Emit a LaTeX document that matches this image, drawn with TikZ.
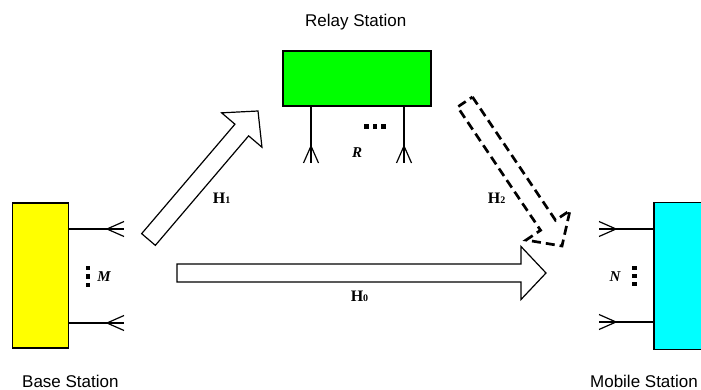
\documentclass[tikz,border=0pt]{standalone}
\usepackage{fontspec}
\setmainfont{Liberation Serif}
\setsansfont{Liberation Sans}
\usetikzlibrary{calc}

\definecolor{bsfill}{RGB}{255,255,0}
\definecolor{rsfill}{RGB}{0,255,0}
\definecolor{msfill}{RGB}{0,255,255}

\begin{document}
\begin{tikzpicture}[x=1pt,y=-1pt]

        % Styles
        \tikzset{
          station/.style={draw,line width=1.4pt,inner sep=0pt},
          ant/.style={line width=1.2pt},
          bigarrow/.style={draw,line width=1.2pt},
          dasharrow/.style={draw,line width=2.7pt,dash pattern=on 9pt off 5pt},
          dotsq/.style={fill=black,minimum size=4.5pt,inner sep=0pt},
          title/.style={font=\sffamily\fontsize{17}{20}\selectfont},
          chan/.style={font=\bfseries\fontsize{16}{18}\selectfont},
          count/.style={font=\bfseries\itshape\fontsize{15}{17}\selectfont}
        }

        \useasboundingbox (0,0) rectangle (701,390);
        \clip (0,0) rectangle (701,390);

        %-------------------------------
        % Stations
        %-------------------------------
        \node[station,fill=bsfill,minimum width=55.6,minimum height=145] (bs) at (40.5,275.5) {};
        \node[station,fill=rsfill,minimum width=148,minimum height=55] (rs) at (357,78.5) {};
        \node[station,fill=msfill,minimum width=56,minimum height=146.6] (ms) at (682,276) {};

        \node[title,anchor=base] (tbs) at (70.4,387)  {Base Station};
        \node[title,anchor=base] (trs) at (355.7,26.7) {Relay Station};
        \node[title,anchor=base] (tms) at (644,387)   {Mobile Station};

        %-------------------------------
        % Antennas (line + fork at the free end)
        %-------------------------------
        \coordinate (bs1) at (bs.east |- 0,229);  \coordinate (bs1e) at (124,229);
        \coordinate (bs2) at (bs.east |- 0,323);  \coordinate (bs2e) at (124,323);
        \coordinate (rs1) at (rs.south -| 311,0); \coordinate (rs1e) at (311,163);
        \coordinate (rs2) at (rs.south -| 404,0); \coordinate (rs2e) at (404,163);
        \coordinate (ms1) at (ms.west |- 0,229);  \coordinate (ms1e) at (599,229);
        \coordinate (ms2) at (ms.west |- 0,322);  \coordinate (ms2e) at (599,322);

        \foreach \a in {bs1,bs2,rs1,rs2,ms1,ms2} {
          \draw[ant] (\a) -- (\a e);
          \draw[ant] ($(\a e)!7.5pt!90:(\a)$) -- ($(\a e)!17pt!(\a)$)
                     -- ($(\a e)!7.5pt!-90:(\a)$);
        }

        % dots between antennas
        \foreach \d in {0,1,2} {
          \node[dotsq] (bsd\d) at (88,268+8.5*\d) {};
          \node[dotsq] (rsd\d) at (366.5+8.5*\d,126.5) {};
          \node[dotsq] (msd\d) at (634.5,268+8*\d) {};
        }

        \node[count] (lm) at (104,277)   {M};
        \node[count] (lr) at (357,152.5) {R};
        \node[count] (ln) at (615,277)   {N};

        %-------------------------------
        % Channels (hollow arrows)
        %-------------------------------
        \coordinate (h0s) at (177,273);   \coordinate (h0e) at (546,273);
        \coordinate (h1s) at (148.5,239.5); \coordinate (h1e) at (258,111);
        \coordinate (h2s) at (465,102);   \coordinate (h2e) at (562,246);

        \foreach \a/\st in {h0/bigarrow,h1/bigarrow,h2/dasharrow} {
          \coordinate (\a b) at ($(\a e)!25pt!(\a s)$);
          \draw[\st] ($(\a s)!9pt!90:(\a e)$) -- ($(\a b)!9pt!90:(\a e)$)
            -- ($(\a b)!26.5pt!90:(\a e)$) -- (\a e)
            -- ($(\a b)!26.5pt!-90:(\a e)$) -- ($(\a b)!9pt!-90:(\a e)$)
            -- ($(\a s)!9pt!-90:(\a e)$) -- cycle;
        }

        \node[chan] (lh0) at (359.5,296) {H{\fontsize{10}{11}\selectfont 0}};
        \node[chan] (lh1) at (221.7,198.5) {H{\fontsize{10}{11}\selectfont 1}};
        \node[chan] (lh2) at (496.7,198.5) {H{\fontsize{10}{11}\selectfont 2}};

\end{tikzpicture}
\end{document}
